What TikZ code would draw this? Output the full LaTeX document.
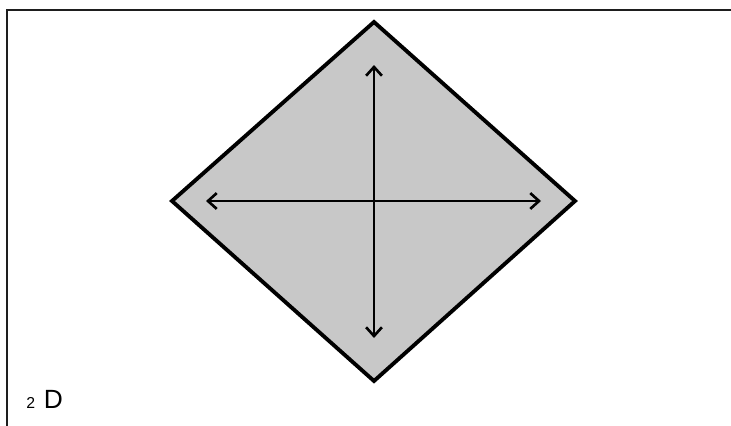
\documentclass[tikz,border=0pt]{standalone}
\usepackage{fontspec}
\setmainfont{Liberation Sans}
\usetikzlibrary{arrows.meta, positioning}
\definecolor{squaregray}{RGB}{200, 200, 200}
\definecolor{framegray}{RGB}{30, 30, 30}

\begin{document}
\begin{tikzpicture}[x=0.02cm, y=-0.02cm]
    % Define styles
    \tikzstyle{frameline} = [draw=framegray, line width=1.4pt]
    \tikzstyle{rhombus} = [draw=black, fill=squaregray, line width=2.2pt, line join=miter]
    \tikzstyle{axis} = [draw=black, line width=1.5pt, {Straight Barb[length=5pt, width=9pt]}-{Straight Barb[length=5pt, width=9pt]}]

    \useasboundingbox (0,0) rectangle (731,426);

    % Corners
    \coordinate (top) at (374,22);
    \coordinate (right) at (575,201);
    \coordinate (bottom) at (374,381);
    \coordinate (left) at (172,201);
    \coordinate (frameA) at (7,426);
    \coordinate (frameB) at (7,10);
    \coordinate (frameC) at (731,10);

    % Arrow ends
    \coordinate (west) at (206,201);
    \coordinate (east) at (541,201);
    \coordinate (north) at (374,65);
    \coordinate (south) at (374,338);

    % Shapes
    \draw[frameline] (frameA) -- (frameB) -- (frameC);
    \path[rhombus] (top) -- (right) -- (bottom) -- (left) -- cycle;
    \draw[axis] (west) -- (east);
    \draw[axis] (north) -- (south);

    % Label
    \node[anchor=base west, inner sep=0pt] (label) at (26,408)
        {{\fontsize{9}{9}\selectfont 2}\hspace{5pt}{\fontsize{15}{16}\selectfont D}};
\end{tikzpicture}
\end{document}
